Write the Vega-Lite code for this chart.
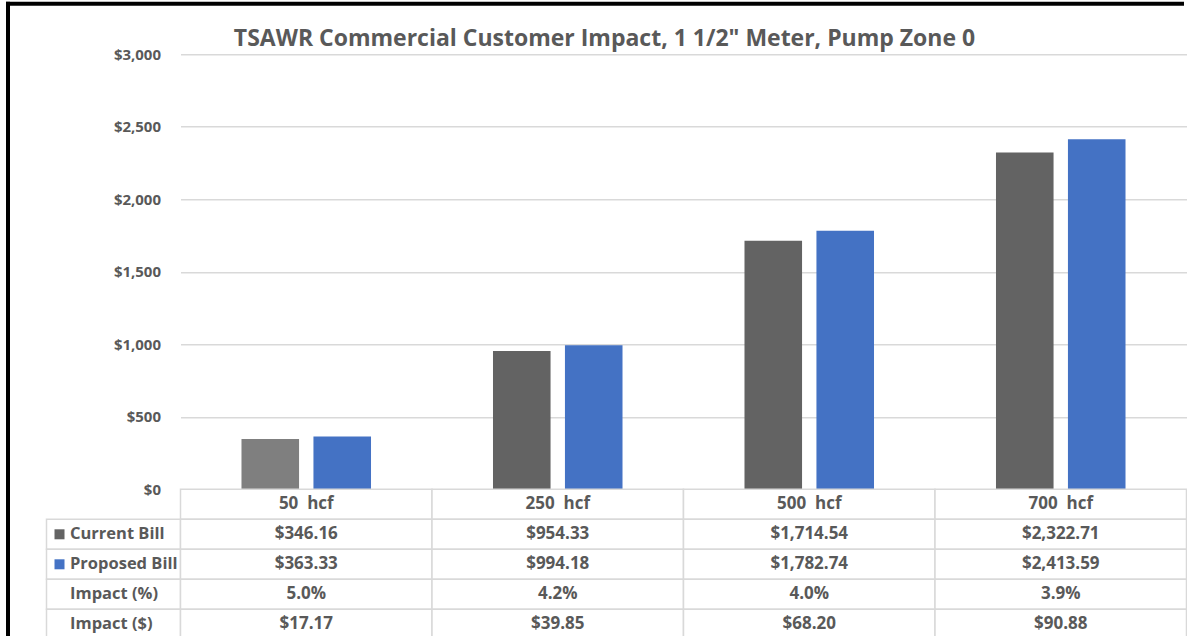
{
  "$schema": "https://vega.github.io/schema/vega-lite/v6.json",
  "padding": {"left": 7.5, "top": 3.3, "right": -1, "bottom": -4},
  "background": "white",
  "bounds": "flush",
  "spacing": 0,
  "config": {
    "view": {"stroke": null},
    "font": "Open Sans"
  },
  "vconcat": [
    {
      "width": 1174,
      "height": 50.4,
      "data": {"values": []},
      "mark": "point",
      "encoding": {
        "x": {"field": "fx", "type": "quantitative", "scale": {"domain": [0, 1]}, "axis": {"orient": "top", "domainColor": "#000000", "domainWidth": 4, "domainCap": "square", "labels": false, "ticks": false, "grid": false, "title": null}},
        "y": {"field": "fy", "type": "quantitative", "scale": {"domain": [0, 1]}, "axis": {"orient": "left", "domainColor": "#000000", "domainWidth": 4, "domainCap": "square", "labels": false, "ticks": false, "grid": false, "title": null}}
      }
    },
    {
      "bounds": "flush",
      "spacing": 0,
      "hconcat": [
        {
          "width": 38.5,
          "height": 584,
          "data": {"values": []},
          "mark": "point",
          "encoding": {
            "y": {"field": "fy", "type": "quantitative", "scale": {"domain": [0, 1]}, "axis": {"orient": "left", "domainColor": "#000000", "domainWidth": 4, "domainCap": "square", "labels": false, "ticks": false, "grid": false, "title": null}}
          }
        },
        {
          "bounds": "flush",
          "spacing": 0,
          "columns": 2,
          "title": {
            "text": "TSAWR Commercial Customer Impact, 1 1/2\" Meter, Pump Zone 0",
            "fontSize": 23,
            "fontWeight": "bold",
            "color": "#595959",
            "anchor": "middle",
            "dx": -12,
            "offset": -4
          },
          "concat": [
            {
              "width": 134,
              "height": 435,
              "data": {"values": []},
              "mark": "point"
            },
            {
              "width": 1006,
              "height": 435,
              "data": {"values": [
                {"hcf": "50\u00a0 hcf", "series": "Current Bill", "bill": 346.16},
                {"hcf": "50\u00a0 hcf", "series": "Proposed Bill", "bill": 363.33},
                {"hcf": "250\u00a0 hcf", "series": "Current Bill", "bill": 954.33},
                {"hcf": "250\u00a0 hcf", "series": "Proposed Bill", "bill": 994.18},
                {"hcf": "500\u00a0 hcf", "series": "Current Bill", "bill": 1714.54},
                {"hcf": "500\u00a0 hcf", "series": "Proposed Bill", "bill": 1782.74},
                {"hcf": "700\u00a0 hcf", "series": "Current Bill", "bill": 2322.71},
                {"hcf": "700\u00a0 hcf", "series": "Proposed Bill", "bill": 2413.59}
              ]},
              "mark": {"type": "bar"},
              "encoding": {
                "x": {"field": "hcf", "type": "nominal", "sort": null, "scale": {"paddingInner": 0.485, "paddingOuter": 0.2425}, "axis": null},
                "xOffset": {"field": "series", "type": "nominal", "sort": null, "scale": {"paddingInner": 0.2}},
                "y": {
                  "field": "bill", "type": "quantitative",
                  "scale": {"domain": [0, 3000], "nice": false},
                  "axis": {"values": [0, 500, 1000, 1500, 2000, 2500, 3000], "format": "$,.0f", "title": null, "domain": false, "ticks": false, "labelPadding": 20, "labelFontSize": 15, "labelFontWeight": "bold", "labelColor": "#595959", "gridColor": "#d9d9d9", "gridWidth": 1.5}
                },
                "color": {
                  "condition": {"test": "datum.series === 'Current Bill' && datum.hcf === '50\u00a0 hcf'", "value": "#7f7f7f"},
                  "field": "series", "type": "nominal",
                  "scale": {"domain": ["Current Bill", "Proposed Bill"], "range": ["#636363", "#4472c4"]},
                  "legend": null
                }
              }
            },
            {
              "width": 134,
              "height": 150,
              "data": {"values": [
                {"row": "Current Bill"},
                {"row": "Proposed Bill"},
                {"row": "Impact (%)"},
                {"row": "Impact ($)"}
              ]},
              "encoding": {
                "y": {"field": "row", "type": "nominal", "scale": {"domain": ["Usage", "Current Bill", "Proposed Bill", "Impact (%)", "Impact ($)"], "paddingInner": 0, "paddingOuter": 0}, "axis": null}
              },
              "layer": [
                {"mark": {"type": "rect", "fill": "white", "stroke": "#d9d9d9", "strokeWidth": 1.5}},
                {"mark": {"type": "text", "fontSize": 16.5, "fontWeight": "bold", "color": "#595959", "align": "left", "dx": -43.5}, "encoding": {"text": {"field": "row"}}},
                {
                  "transform": [{"filter": "datum.row === 'Current Bill' || datum.row === 'Proposed Bill'"}],
                  "mark": {"type": "point", "shape": "square", "filled": true, "size": 100, "opacity": 1, "xOffset": -54},
                  "encoding": {"color": {"field": "row", "type": "nominal", "scale": {"domain": ["Current Bill", "Proposed Bill"], "range": ["#636363", "#4472c4"]}, "legend": null}}
                }
              ]
            },
            {
              "width": 1006,
              "height": 150,
              "data": {"values": [
                {"hcf": "50\u00a0 hcf", "row": "Usage", "cell": "50\u00a0 hcf"},
                {"hcf": "250\u00a0 hcf", "row": "Usage", "cell": "250\u00a0 hcf"},
                {"hcf": "500\u00a0 hcf", "row": "Usage", "cell": "500\u00a0 hcf"},
                {"hcf": "700\u00a0 hcf", "row": "Usage", "cell": "700\u00a0 hcf"},
                {"hcf": "50\u00a0 hcf", "row": "Current Bill", "cell": "$346.16"},
                {"hcf": "250\u00a0 hcf", "row": "Current Bill", "cell": "$954.33"},
                {"hcf": "500\u00a0 hcf", "row": "Current Bill", "cell": "$1,714.54"},
                {"hcf": "700\u00a0 hcf", "row": "Current Bill", "cell": "$2,322.71"},
                {"hcf": "50\u00a0 hcf", "row": "Proposed Bill", "cell": "$363.33"},
                {"hcf": "250\u00a0 hcf", "row": "Proposed Bill", "cell": "$994.18"},
                {"hcf": "500\u00a0 hcf", "row": "Proposed Bill", "cell": "$1,782.74"},
                {"hcf": "700\u00a0 hcf", "row": "Proposed Bill", "cell": "$2,413.59"},
                {"hcf": "50\u00a0 hcf", "row": "Impact (%)", "cell": "5.0%"},
                {"hcf": "250\u00a0 hcf", "row": "Impact (%)", "cell": "4.2%"},
                {"hcf": "500\u00a0 hcf", "row": "Impact (%)", "cell": "4.0%"},
                {"hcf": "700\u00a0 hcf", "row": "Impact (%)", "cell": "3.9%"},
                {"hcf": "50\u00a0 hcf", "row": "Impact ($)", "cell": "$17.17"},
                {"hcf": "250\u00a0 hcf", "row": "Impact ($)", "cell": "$39.85"},
                {"hcf": "500\u00a0 hcf", "row": "Impact ($)", "cell": "$68.20"},
                {"hcf": "700\u00a0 hcf", "row": "Impact ($)", "cell": "$90.88"}
              ]},
              "encoding": {
                "x": {"field": "hcf", "type": "nominal", "sort": null, "scale": {"paddingInner": 0, "paddingOuter": 0}, "axis": null},
                "y": {"field": "row", "type": "nominal", "scale": {"domain": ["Usage", "Current Bill", "Proposed Bill", "Impact (%)", "Impact ($)"], "paddingInner": 0, "paddingOuter": 0}, "axis": null}
              },
              "layer": [
                {"mark": {"type": "rect", "fill": "white", "stroke": "#d9d9d9", "strokeWidth": 1.5}},
                {"mark": {"type": "text", "fontSize": 17, "fontWeight": "bold", "color": "#595959"}, "encoding": {"text": {"field": "cell"}}}
              ]
            }
          ]
        }
      ]
    }
  ]
}
